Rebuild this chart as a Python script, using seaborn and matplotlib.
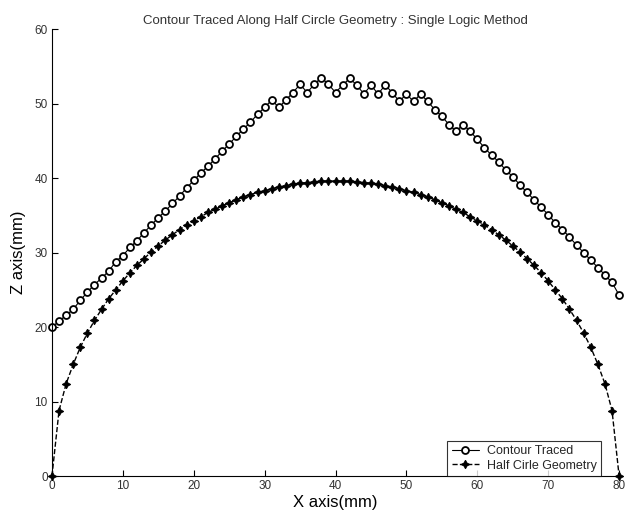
import matplotlib
matplotlib.use("Agg")
import matplotlib.pyplot as plt
import pandas as pd
import seaborn as sns

# x positions (mm), one sample per mm
x_mm = list(range(0, 81))

# traced contour (mm)
contour_z = [
    20.0, 20.8, 21.6, 22.4, 23.6, 24.7, 25.7, 26.6, 27.5, 28.8,
    29.6, 30.7, 31.6, 32.7, 33.7, 34.7, 35.6, 36.6, 37.6, 38.7,
    39.7, 40.7, 41.6, 42.6, 43.6, 44.6, 45.6, 46.6, 47.5, 48.6,
    49.5, 50.5, 49.5, 50.5, 51.5, 52.6, 51.5, 52.6, 53.5, 52.6,
    51.5, 52.5, 53.4, 52.5, 51.3, 52.5, 51.3, 52.5, 51.5, 50.3,
    51.3, 50.3, 51.3, 50.3, 49.2, 48.3, 47.2, 46.3, 47.2, 46.3,
    45.2, 44.1, 43.1, 42.2, 41.1, 40.2, 39.1, 38.1, 37.1, 36.1,
    35.1, 34.0, 33.1, 32.1, 31.0, 30.0, 29.0, 28.0, 27.0, 26.0,
    24.3,
]

# reference half circle geometry (mm)
circle_z = [
    0.0, 8.8, 12.4, 15.0, 17.3, 19.2, 20.9, 22.4, 23.8, 25.0,
    26.2, 27.3, 28.3, 29.2, 30.1, 30.9, 31.7, 32.4, 33.1, 33.7,
    34.3, 34.8, 35.4, 35.8, 36.3, 36.7, 37.1, 37.5, 37.8, 38.1,
    38.3, 38.6, 38.8, 39.0, 39.2, 39.3, 39.4, 39.5, 39.6, 39.6,
    39.6,
    39.6, 39.6, 39.5, 39.4, 39.3, 39.2, 39.0, 38.8, 38.6, 38.3,
    38.1, 37.8, 37.5, 37.1, 36.7, 36.3, 35.8, 35.4, 34.8, 34.3,
    33.7, 33.1, 32.4, 31.7, 30.9, 30.1, 29.2, 28.3, 27.3, 26.2,
    25.0, 23.8, 22.4, 20.9, 19.2, 17.3, 15.0, 12.4, 8.8, 0.0,
]

x_ticks = [0, 10, 20, 30, 40, 50, 60, 70, 80]
z_ticks = [0, 10, 20, 30, 40, 50, 60]

df = pd.DataFrame({"x": x_mm, "contour": contour_z, "circle": circle_z})

sns.set_theme(style="white")
plt.rcParams["font.family"] = ["Liberation Sans", "DejaVu Sans"]

fig = plt.figure(figsize=(6.26, 5.22), dpi=100)
ax = fig.add_axes([0.083, 0.088, 0.906, 0.856])

sns.lineplot(data=df, x="x", y="contour", ax=ax, color="black", lw=0.8,
             marker="o", markersize=5.0, markerfacecolor="white",
             markeredgecolor="black", markeredgewidth=1.3, clip_on=False,
             label="Contour Traced")
sns.lineplot(data=df, x="x", y="circle", ax=ax, color="black", lw=1.0,
             linestyle="--", marker=(4, 1, 0), markersize=6,
             markerfacecolor="black", markeredgecolor="black", clip_on=False,
             label="Half Cirle Geometry")

ax.set_xlim(0, 80)
ax.set_ylim(0, 60)
ax.set_xticks(x_ticks)
ax.set_yticks(z_ticks)
ax.tick_params(direction="in", length=4, width=0.8, labelsize=8.5,
               labelcolor="#333333", color="black", pad=3,
               bottom=True, left=True)
for side in ["top", "right"]:
    ax.spines[side].set_visible(False)
for side in ["left", "bottom"]:
    ax.spines[side].set_color("black")
    ax.spines[side].set_linewidth(0.8)

ax.set_xlabel("X axis(mm)", fontsize=12, color="black", labelpad=2)
ax.set_ylabel("Z axis(mm)", fontsize=12, color="black", labelpad=6)
ax.set_title("Contour Traced Along Half Circle Geometry : Single Logic Method",
             fontsize=9.5, color="#333333", pad=4)

leg = ax.legend(loc="lower right", bbox_to_anchor=(0.968, 0.0),
                borderaxespad=0, fontsize=9, frameon=True, fancybox=False,
                handlelength=2.2, handletextpad=0.6, borderpad=0.35,
                labelspacing=0.2)
leg.get_frame().set_edgecolor("black")
leg.get_frame().set_linewidth(0.8)

fig.savefig("out.png", dpi=100)
plt.close(fig)
